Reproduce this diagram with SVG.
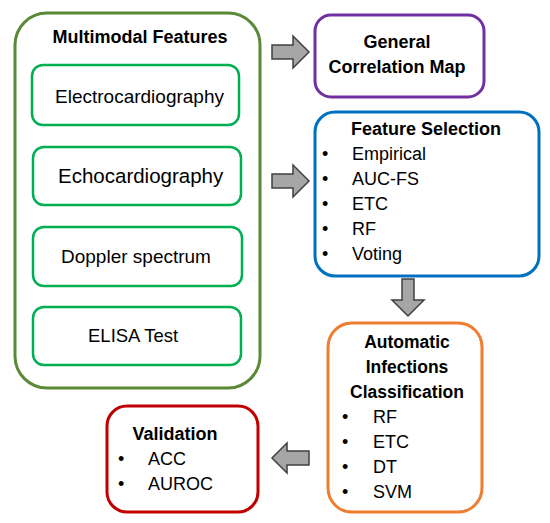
<svg xmlns="http://www.w3.org/2000/svg" width="550" height="523" viewBox="0 0 550 523">
<style>
text{font-family:"Liberation Sans",Arial,sans-serif;fill:#000}
.b{font-weight:bold}
.box{fill:#fff;stroke-width:3}
.inner{fill:#fff;stroke:#00b050;stroke-width:2.5}
.arr{fill:#a6a6a6;stroke:#404040;stroke-width:1.5;stroke-linejoin:miter}
.c{text-anchor:middle}
</style>
<rect width="550" height="523" fill="#fff"/>
<g id="multimodal">
<rect class="box" x="15" y="13" width="245" height="375" rx="32" stroke="#5a8a37"/>
<text class="b c" x="140" y="43" font-size="18">Multimodal Features</text>
<g id="ecg"><rect class="inner" x="32" y="65" width="207" height="60" rx="11"/><text x="55" y="103" font-size="19">Electrocardiography</text></g>
<g id="echo"><rect class="inner" x="33" y="147" width="208" height="58" rx="11"/><text x="58" y="183" font-size="20.5">Echocardiography</text></g>
<g id="doppler"><rect class="inner" x="33" y="227" width="209" height="59" rx="11"/><text x="61" y="263" font-size="19">Doppler spectrum</text></g>
<g id="elisa"><rect class="inner" x="33" y="307" width="208" height="58" rx="11"/><text x="88" y="342" font-size="18.5">ELISA Test</text></g>
</g>
<g id="correlation">
<rect class="box" x="315" y="15" width="169" height="82" rx="16" stroke="#7030a0"/>
<text class="b c" x="397" y="48" font-size="18">General</text>
<text class="b c" x="397" y="73" font-size="18">Correlation Map</text>
</g>
<g id="featsel">
<rect class="box" x="315" y="112" width="224" height="164" rx="20" stroke="#0070c0"/>
<text class="b" x="351" y="135" font-size="18">Feature Selection</text>
<g font-size="18">
<text x="322" y="160">•</text><text x="352" y="160">Empirical</text>
<text x="322" y="185">•</text><text x="352" y="185">AUC-FS</text>
<text x="322" y="210">•</text><text x="352" y="210">ETC</text>
<text x="322" y="235">•</text><text x="352" y="235">RF</text>
<text x="322" y="260">•</text><text x="352" y="260">Voting</text>
</g>
</g>
<g id="classification">
<rect class="box" x="328" y="323" width="154" height="189" rx="24" stroke="#ed7d31"/>
<text class="b c" x="407" y="348" font-size="17.5">Automatic</text>
<text class="b c" x="407" y="373" font-size="17.5">Infections</text>
<text class="b c" x="407" y="398" font-size="17.5">Classification</text>
<g font-size="18">
<text x="342" y="423">•</text><text x="373" y="423">RF</text>
<text x="342" y="448">•</text><text x="373" y="448">ETC</text>
<text x="342" y="473">•</text><text x="373" y="473">DT</text>
<text x="342" y="498">•</text><text x="373" y="498">SVM</text>
</g>
</g>
<g id="validation">
<rect class="box" x="107" y="406" width="151" height="106" rx="20" stroke="#c00000"/>
<text class="b c" x="175" y="440" font-size="18">Validation</text>
<g font-size="18">
<text x="118" y="465">•</text><text x="148" y="465">ACC</text>
<text x="118" y="490">•</text><text x="148" y="490">AUROC</text>
</g>
</g>
<g id="connectors">
<path class="arr" d="M272,45 H293 V36 L309,52 L293,68 V59 H272 Z"/>
<path class="arr" d="M272,174 H293 V165 L309,181 L293,197 V188 H272 Z"/>
<path class="arr" d="M402,279 V300 H392 L408,316 L424,300 H414 V279 Z"/>
<path class="arr" d="M309,451 H287 V443 L272,458 L287,473 V465 H309 Z"/>
</g>
</svg>
